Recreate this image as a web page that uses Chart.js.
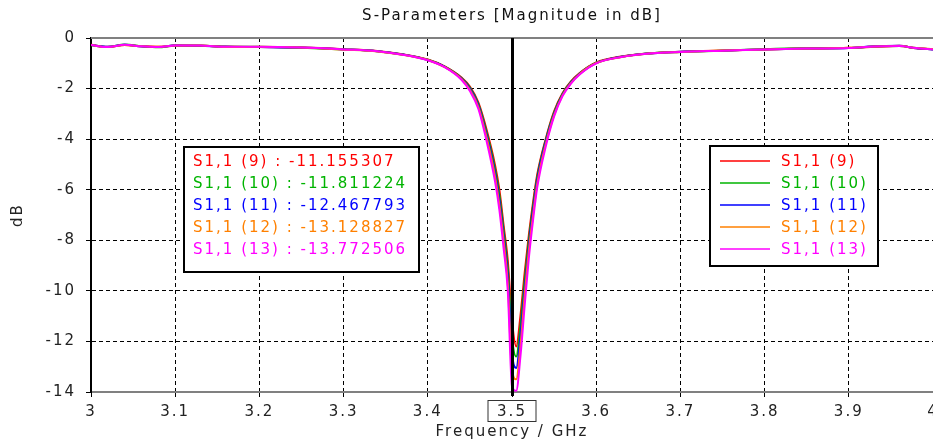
<!DOCTYPE html>
<html>
<head>
<meta charset="utf-8">
<title>S-Parameters</title>
<script src="https://cdn.jsdelivr.net/npm/chart.js@4.4.0/dist/chart.umd.min.js"></script>
<style>
html, body { margin: 0; padding: 0; background: #fff; overflow: hidden; }
#wrap { width: 933px; height: 446px; }
</style>
</head>
<body>
<div id="wrap"><canvas id="sparam"></canvas></div>
<script>
// frequency points (GHz), shared by all five traces
var freqs = [3.00, 3.02, 3.04, 3.06, 3.08, 3.10, 3.13, 3.16, 3.20, 3.25, 3.30, 3.34, 3.37, 3.40, 3.42,
  3.44, 3.45, 3.46, 3.47, 3.48, 3.485, 3.49, 3.495, 3.50, 3.505, 3.51, 3.515, 3.52, 3.525, 3.53,
  3.54, 3.55, 3.56, 3.57, 3.58,
  3.60, 3.63, 3.66, 3.70, 3.75, 3.80, 3.85, 3.90, 3.93, 3.96, 3.98, 4.00];

var s11_9 = [-0.27, -0.35, -0.28, -0.32, -0.35, -0.31, -0.31, -0.34, -0.36, -0.38, -0.44, -0.51, -0.64, -0.85, -1.12,
  -1.56, -1.92, -2.55, -3.65, -5.05, -6.0, -7.4, -8.8, -11.16, -12.2, -11.0, -9.3, -7.8, -6.5, -5.4,
  -4.0, -2.9, -2.18, -1.72, -1.4,
  -0.97, -0.73, -0.61, -0.54, -0.49, -0.45, -0.42, -0.39, -0.35, -0.31, -0.41, -0.44];
var s11_10 = [-0.29, -0.36, -0.26, -0.33, -0.37, -0.30, -0.30, -0.35, -0.35, -0.39, -0.45, -0.52, -0.65, -0.86, -1.13,
  -1.58, -1.96, -2.6, -3.75, -5.2, -6.2, -7.6, -9.1, -11.81, -12.6, -11.4, -9.6, -8.0, -6.65, -5.5,
  -4.05, -2.95, -2.21, -1.74, -1.41,
  -0.98, -0.74, -0.61, -0.55, -0.50, -0.44, -0.41, -0.40, -0.34, -0.32, -0.40, -0.45];
var s11_11 = [-0.28, -0.35, -0.27, -0.34, -0.36, -0.29, -0.31, -0.35, -0.36, -0.38, -0.45, -0.52, -0.65, -0.87, -1.14,
  -1.6, -2.0, -2.65, -3.85, -5.35, -6.4, -7.8, -9.4, -12.47, -13.05, -11.8, -9.9, -8.2, -6.8, -5.6,
  -4.1, -3.0, -2.24, -1.76, -1.42,
  -0.99, -0.74, -0.62, -0.54, -0.50, -0.45, -0.42, -0.40, -0.33, -0.31, -0.41, -0.45];
var s11_12 = [-0.28, -0.36, -0.28, -0.33, -0.35, -0.30, -0.30, -0.36, -0.35, -0.38, -0.46, -0.53, -0.66, -0.87, -1.15,
  -1.62, -2.05, -2.72, -3.95, -5.5, -6.6, -8.0, -9.7, -13.13, -13.5, -12.2, -10.2, -8.4, -7.0, -5.75,
  -4.2, -3.05, -2.27, -1.78, -1.43,
  -0.99, -0.75, -0.62, -0.55, -0.49, -0.45, -0.42, -0.39, -0.34, -0.32, -0.40, -0.44];
var s11_13 = [-0.28, -0.36, -0.27, -0.33, -0.36, -0.30, -0.30, -0.35, -0.35, -0.38, -0.45, -0.52, -0.66, -0.88, -1.15,
  -1.65, -2.1, -2.8, -4.1, -5.7, -6.8, -8.3, -10.0, -13.77, -13.95, -12.6, -10.6, -8.7, -7.2, -5.9,
  -4.3, -3.1, -2.3, -1.8, -1.45,
  -1.0, -0.75, -0.62, -0.55, -0.50, -0.45, -0.42, -0.40, -0.34, -0.32, -0.40, -0.45];

var seriesNames = ['S1,1 (9)', 'S1,1 (10)', 'S1,1 (11)', 'S1,1 (12)', 'S1,1 (13)'];
var seriesValues = [s11_9, s11_10, s11_11, s11_12, s11_13];
var seriesColors = ['#ff0000', '#00b400', '#0000ff', '#ff8000', '#ff00ff'];

// marker readout at 3.5 GHz
var markerFreq = 3.5;
var markerValues = [-11.155307, -11.811224, -12.467793, -13.128827, -13.772506];

var fontFamily = '"DejaVu Sans", Verdana, sans-serif';
var spacing = '2px';

var datasets = [];
for (var i = 0; i < seriesNames.length; i++) {
  var pts = [];
  for (var j = 0; j < freqs.length; j++) {
    pts.push({x: freqs[j], y: seriesValues[i][j]});
  }
  datasets.push({
    label: seriesNames[i],
    data: pts,
    borderColor: seriesColors[i],
    borderWidth: 2,
    pointRadius: 0,
    cubicInterpolationMode: 'monotone',
    order: seriesNames.length - 1 - i
  });
}

var extras = {
  id: 'extras',
  beforeUpdate: function (chart) { chart.ctx.letterSpacing = spacing; },
  beforeDraw: function (chart) { chart.ctx.letterSpacing = spacing; },
  beforeDatasetsDraw: function (chart) {
    var ctx = chart.ctx, area = chart.chartArea;
    ctx.save();
    ctx.strokeStyle = '#808080';
    ctx.lineWidth = 2;
    ctx.beginPath();
    ctx.moveTo(area.left, area.top);
    ctx.lineTo(area.right, area.top);
    ctx.stroke();
    ctx.restore();
  },
  afterDatasetsDraw: function (chart) {
    var ctx = chart.ctx, area = chart.chartArea;
    var mx = Math.round(chart.scales.x.getPixelForValue(markerFreq)) + 0.5;
    ctx.save();
    ctx.letterSpacing = spacing;

    // marker line and boxed tick label
    ctx.strokeStyle = '#000';
    ctx.lineWidth = 3;
    ctx.beginPath();
    ctx.moveTo(mx, area.top);
    ctx.lineTo(mx, area.bottom + 4);
    ctx.stroke();
    ctx.lineWidth = 1;
    ctx.strokeStyle = '#333';
    ctx.strokeRect(mx - 24.5, 400.5, 48, 21);

    ctx.font = '15px ' + fontFamily;
    ctx.textBaseline = 'middle';
    ctx.textAlign = 'left';

    // marker readout box
    ctx.fillStyle = '#fff';
    ctx.fillRect(184, 147, 235, 125);
    ctx.lineWidth = 2;
    ctx.strokeStyle = '#000';
    ctx.strokeRect(184, 147, 235, 125);
    for (var k = 0; k < seriesNames.length; k++) {
      ctx.fillStyle = seriesColors[k];
      ctx.fillText(seriesNames[k] + ' : ' + markerValues[k].toFixed(6), 193, 162 + k * 22);
    }

    // legend box
    ctx.fillStyle = '#fff';
    ctx.fillRect(710, 146, 168, 120);
    ctx.strokeRect(710, 146, 168, 120);
    for (var m = 0; m < chart.data.datasets.length; m++) {
      var ds = chart.data.datasets[m];
      var ly = 161 + m * 22;
      ctx.strokeStyle = ds.borderColor;
      ctx.lineWidth = 1.5;
      ctx.beginPath();
      ctx.moveTo(720, ly);
      ctx.lineTo(770, ly);
      ctx.stroke();
      ctx.fillStyle = ds.borderColor;
      ctx.fillText(ds.label, 781, ly + 1);
    }
    ctx.restore();
  }
};

var tickFont = {family: fontFamily, size: 15};

new Chart(document.getElementById('sparam'), {
  type: 'line',
  data: {datasets: datasets},
  plugins: [extras],
  options: {
    responsive: true,
    maintainAspectRatio: false,
    animation: false,
    layout: {padding: {left: 0, right: 0, top: 0, bottom: 0}},
    plugins: {
      legend: {display: false},
      tooltip: {enabled: false},
      title: {
        display: true,
        text: 'S-Parameters [Magnitude in dB]',
        color: '#111',
        fullSize: false,
        font: {family: fontFamily, size: 15, weight: 'normal'},
        padding: {top: 7, bottom: 13}
      }
    },
    scales: {
      x: {
        type: 'linear',
        min: 3,
        max: 4,
        ticks: {
          stepSize: 0.1, color: '#222', font: tickFont, padding: 6, maxRotation: 0, autoSkip: false,
          callback: function (v) { return String(Math.round(v * 10) / 10); }
        },
        grid: {color: '#000', lineWidth: 1, tickLength: 5, tickColor: '#000'},
        border: {color: '#808080', width: 2, dash: [4, 3]},
        title: {display: true, text: 'Frequency / GHz', color: '#222', font: tickFont, padding: {top: 0, bottom: 5}},
        afterFit: function (scale) {
          scale.height = 54;
          scale.paddingLeft = 0;
          scale.paddingRight = 0;
        }
      },
      y: {
        min: -14,
        max: 0,
        ticks: {stepSize: 2, color: '#222', font: tickFont, padding: 10},
        grid: {color: '#000', lineWidth: 1, tickLength: 5, tickColor: '#000'},
        border: {color: '#000', width: 2, dash: [4, 3]},
        title: {display: true, text: 'dB', color: '#222', font: tickFont, padding: {top: 9, bottom: 0}},
        afterFit: function (scale) {
          scale.width = 91;
        }
      }
    }
  }
});
</script>
</body>
</html>
